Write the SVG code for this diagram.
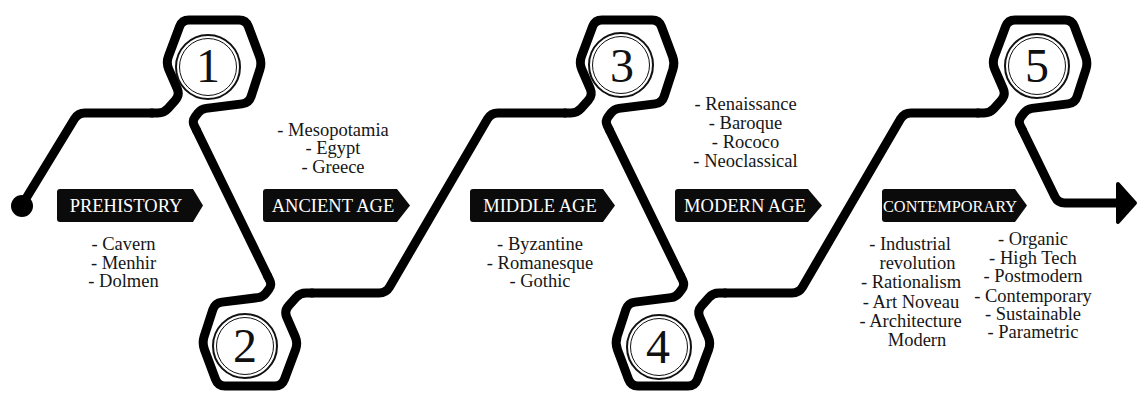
<svg xmlns="http://www.w3.org/2000/svg" xmlns:xlink="http://www.w3.org/1999/xlink" width="1138" height="393" viewBox="0 0 1138 393">
<style>
.line{fill:none;stroke:#000;stroke-width:9;stroke-linecap:round;stroke-linejoin:round}
.ring{fill:none;stroke:#111;stroke-width:2}
.ring2{fill:none;stroke:#111;stroke-width:1}
.num{font-family:"Liberation Serif","Times New Roman",serif;font-size:48px;text-anchor:middle;fill:#111}
.tag{fill:#0b0b0b}
.tagt{font-family:"Liberation Serif","Times New Roman",serif;font-size:18.5px;fill:#fff;text-anchor:middle}
.lst{font-family:"Liberation Serif","Times New Roman",serif;font-size:18.5px;fill:#161616;text-anchor:middle}
</style>
<defs>
<path id="hex" class="line" d="M-62 50 L-56 50 Q-50 50 -46.02 45.52 L-38.65 37.23 Q-34 32 -36.81 25.59 L-45.19 6.41 Q-48 0 -45.56 -6.56 L-34.44 -36.44 Q-32 -43 -25 -43 L25 -43 Q32 -43 34.44 -36.44 L45.56 -6.56 Q48 0 45.84 6.66 L37.16 33.34 Q35 40 28.06 40.87 L-8.04 45.38 Q-13 46 -16 50 L-19 54 Q-22 58 -19.81 62.5 L-17.62 67"/>
</defs>
<rect width="1138" height="393" fill="#fff"/>

<g id="connectors">
<circle cx="22" cy="206" r="11" fill="#000"/>
<path class="line" d="M22 205 L74.36 118.98 Q78 113 85 113 L152 113"/>
<path class="line" d="M196.38 130 L267.62 276"/>
<path class="line" d="M312 293 L379 293 Q386 293 389.53 286.95 L487.47 119.05 Q491 113 498 113 L565 113"/>
<path class="line" d="M609.38 130 L680.62 276"/>
<path class="line" d="M725 293 L792 293 Q799 293 802.53 286.95 L900.47 119.05 Q904 113 911 113 L978 113"/>
<path class="line" d="M1022.38 130 L1054.93 196.71 Q1058 203 1065 203 L1122 203"/>
<path d="M1118 184 L1135 203 L1118 222 Z" fill="#000" stroke="#000" stroke-width="4" stroke-linejoin="round"/>
</g>

<g id="node-1">
<use xlink:href="#hex" transform="translate(214,63)"/>
<circle class="ring" cx="208" cy="67" r="32"/>
<circle class="ring2" cx="208" cy="67" r="28.5"/>
<text class="num" x="208" y="82">1</text>
</g>
<g id="node-2">
<use xlink:href="#hex" transform="translate(250,343) rotate(180)"/>
<circle class="ring" cx="245" cy="346" r="32"/>
<circle class="ring2" cx="245" cy="346" r="28.5"/>
<text class="num" x="245" y="362">2</text>
</g>
<g id="node-3">
<use xlink:href="#hex" transform="translate(627,63)"/>
<circle class="ring" cx="621" cy="65" r="32"/>
<circle class="ring2" cx="621" cy="65" r="28.5"/>
<text class="num" x="622" y="82">3</text>
</g>
<g id="node-4">
<use xlink:href="#hex" transform="translate(663,343) rotate(180)"/>
<circle class="ring" cx="659" cy="347" r="32"/>
<circle class="ring2" cx="659" cy="347" r="28.5"/>
<text class="num" x="658" y="363">4</text>
</g>
<g id="node-5">
<use xlink:href="#hex" transform="translate(1040,63)"/>
<circle class="ring" cx="1037" cy="66" r="32"/>
<circle class="ring2" cx="1037" cy="66" r="28.5"/>
<text class="num" x="1037" y="82">5</text>
</g>

<g id="prehistory">
<path class="tag" d="M60 189 L193 189 L203 205.5 L193 222 L60 222 Q57 222 57 219 L57 192 Q57 189 60 189 Z"/>
<text class="tagt" x="126" y="212">PREHISTORY</text>
<text class="lst" x="123.5" y="250">- Cavern</text>
<text class="lst" x="123.5" y="268.5">- Menhir</text>
<text class="lst" x="123.5" y="287">- Dolmen</text>
</g>
<g id="ancient-age">
<path class="tag" d="M266 189 L397 189 L410 205.5 L397 222 L266 222 Q263 222 263 219 L263 192 Q263 189 266 189 Z"/>
<text class="tagt" x="333" y="212">ANCIENT AGE</text>
<text class="lst" x="333" y="136">- Mesopotamia</text>
<text class="lst" x="333" y="154.3">- Egypt</text>
<text class="lst" x="333" y="172.6">- Greece</text>
</g>
<g id="middle-age">
<path class="tag" d="M473 189 L603 189 L615 205.5 L603 222 L473 222 Q470 222 470 219 L470 192 Q470 189 473 189 Z"/>
<text class="tagt" x="540" y="212">MIDDLE AGE</text>
<text class="lst" x="540" y="250">- Byzantine</text>
<text class="lst" x="540" y="268.5">- Romanesque</text>
<text class="lst" x="540" y="287">- Gothic</text>
</g>
<g id="modern-age">
<path class="tag" d="M678 189 L808 189 L822 205.5 L808 222 L678 222 Q675 222 675 219 L675 192 Q675 189 678 189 Z"/>
<text class="tagt" x="745" y="212">MODERN AGE</text>
<text class="lst" x="745.5" y="110">- Renaissance</text>
<text class="lst" x="745.5" y="129">- Baroque</text>
<text class="lst" x="745.5" y="148.3">- Rococo</text>
<text class="lst" x="745.5" y="167.3">- Neoclassical</text>
</g>
<g id="contemporary">
<path class="tag" d="M885 189 L1015 189 L1027 205.5 L1015 222 L885 222 Q882 222 882 219 L882 192 Q882 189 885 189 Z"/>
<text class="tagt" x="950" y="212" style="font-size:17px" textLength="134" lengthAdjust="spacingAndGlyphs">CONTEMPORARY</text>
<text class="lst" x="910" y="250">- Industrial</text>
<text class="lst" x="917.5" y="269.3">revolution</text>
<text class="lst" x="911" y="288.3">- Rationalism</text>
<text class="lst" x="911" y="307.7">- Art Noveau</text>
<text class="lst" x="910.5" y="326.7">- Architecture</text>
<text class="lst" x="917" y="345.7">Modern</text>
<text class="lst" x="1033" y="245">- Organic</text>
<text class="lst" x="1033" y="264">- High Tech</text>
<text class="lst" x="1033" y="282.3">- Postmodern</text>
<text class="lst" x="1033" y="301.7">- Contemporary</text>
<text class="lst" x="1033" y="320">- Sustainable</text>
<text class="lst" x="1033" y="338">- Parametric</text>
</g>
</svg>
